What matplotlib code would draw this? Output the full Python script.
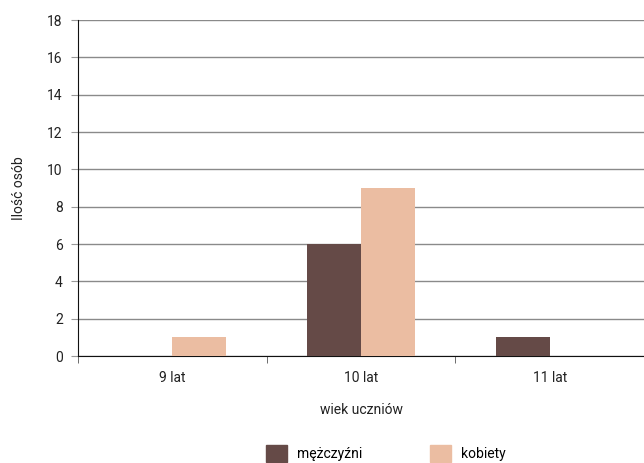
import matplotlib
matplotlib.use("Agg")
import matplotlib.pyplot as plt
import numpy as np
from matplotlib.patches import Patch

categories = ["9 lat", "10 lat", "11 lat"]
men = [0, 6, 1]
women = [1, 9, 0]

plt.rcParams["font.family"] = ["Roboto", "DejaVu Sans"]

fig = plt.figure(figsize=(6.44, 4.63), dpi=100)
ax = fig.add_axes([78 / 644, 1 - 356 / 463, 1 - 78 / 644, 336 / 463])

x = np.arange(len(categories))
w = 0.286
c_men = "#654A47"
c_women = "#EBBDA2"
ax.bar(x - w / 2, men, w, color=c_men, zorder=3)
ax.bar(x + w / 2, women, w, color=c_women, zorder=3)

ax.set_xlim(-0.5, 2.5)
ax.set_ylim(0, 18)
ax.set_yticks(range(0, 19, 2))
ax.yaxis.grid(True, color="#8a8a8a", linewidth=1, zorder=0)
ax.set_axisbelow(True)

ax.set_xticks(x)
ax.set_xticklabels(categories, fontsize=10, color="#222222")
ax.set_xticks([-0.5, 0.5, 1.5, 2.5], minor=True)
ax.tick_params(axis="x", which="major", length=0, pad=11)
ax.tick_params(axis="x", which="minor", length=5, color="#555555", direction="out")
ax.tick_params(axis="y", length=5, color="#999999", labelsize=10, labelcolor="#222222", pad=6)

for s in ["top", "right"]:
    ax.spines[s].set_visible(False)
ax.spines["left"].set_color("#111111")
ax.spines["bottom"].set_color("#111111")

ax.set_xlabel("wiek uczniów", fontsize=10, color="#222222", labelpad=13)
ax.set_ylabel("Ilość osób", fontsize=10, color="#222222", labelpad=15)

handles = [Patch(color=c_men, label="mężczyźni"), Patch(color=c_women, label="kobiety")]
fig.legend(handles=handles, loc="lower center", bbox_to_anchor=(0.599, -0.025), ncol=2,
           frameon=False, fontsize=10, handlelength=1.5, handleheight=1.5,
           columnspacing=4.9, handletextpad=0.7)

fig.savefig("out.png", dpi=100)
